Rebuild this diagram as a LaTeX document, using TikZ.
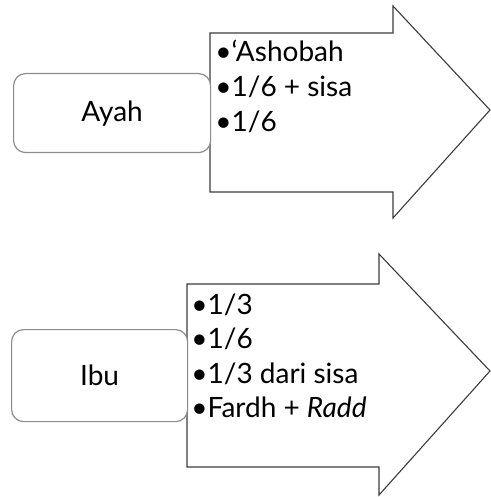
\documentclass[tikz,border=0pt]{standalone}
\usepackage{fontspec}
\setmainfont{Lato}
\usetikzlibrary{positioning}
\usepackage{xcolor}
\definecolor{boxgray} {RGB} {140,140,140}
\definecolor{arrowgray} {RGB} {60,60,60}
\tikzstyle{heir} = [rectangle,rounded corners=6pt,draw=boxgray,fill=white,line width=0.6pt,inner sep=0pt]
\tikzstyle{bigarrow} = [draw=arrowgray,fill=white,line width=0.55pt,line join=miter]
\tikzstyle{share} = [align=left,anchor=north west,inner sep=0pt,font=\fontsize{14}{17.3}\selectfont]
\newcommand{\itm}{\textbullet}

\begin{document}
\begin{tikzpicture}[x=0.5pt,y=-0.5pt]
  \useasboundingbox (0,0) rectangle (491,497);

  % father
  \draw [bigarrow] (210,33) coordinate (a1) -- (393,33) -- (393,6) -- (490,110)
    -- (393,218) -- (393,192) -- (210,192) -- cycle;
  \node [heir,minimum width=98.5pt,minimum height=39.5pt,anchor=north west] (ayah) at (13,73)
    {\fontsize{14}{17}\selectfont Ayah};
  \node [share,below right=3.5pt and 2.5pt of a1] (s1)
    {\itm`Ashobah\\ \itm1/6 + sisa\\ \itm1/6};

  % mother
  \draw [bigarrow] (187,284) coordinate (a2) -- (379,284) -- (379,254) -- (490,371)
    -- (379,495) -- (379,467) -- (187,467) -- cycle;
  \node [heir,minimum width=88pt,minimum height=46pt,anchor=north west] (ibu) at (11,329)
    {\fontsize{14}{17}\selectfont Ibu};
  \node [share,below right=4.5pt and 2pt of a2] (s2)
    {\itm1/3\\ \itm1/6\\ \itm1/3 dari sisa\\ \itm Fardh + \textit{Radd}};

\end{tikzpicture}
\end{document}
